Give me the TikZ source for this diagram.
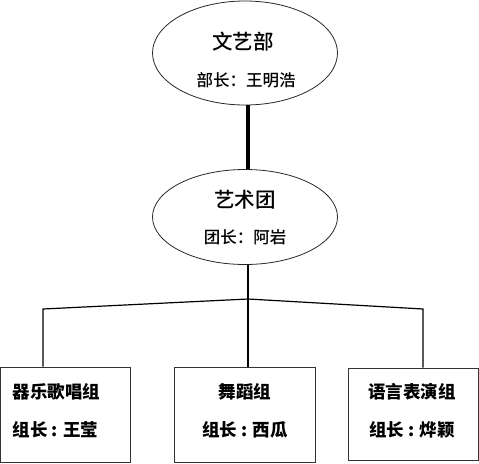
\documentclass[tikz,border=0pt]{standalone}
\usepackage{fontspec}
\setmainfont{Noto Sans CJK SC}
\newfontfamily\cjkmed{Noto Sans CJK SC Medium}
\usetikzlibrary{shapes.geometric, positioning}

\begin{document}
\begin{tikzpicture}[
        x=1pt, y=-1pt,
        unit/.style={
            ellipse, draw=black!85, line width=0.8pt,
            minimum width=185pt, inner sep=0pt
        },
        group/.style={
            rectangle, draw=black!80, line width=0.8pt,
            minimum height=95pt, inner sep=0pt
        },
        uname/.style={font=\cjkmed\fontsize{20.5}{24}\selectfont},
        uhead/.style={font=\cjkmed\fontsize{16.5}{20}\selectfont},
        gtext/.style={font=\bfseries\fontsize{17.5}{21}\selectfont},
        link/.style={draw=black, line width=1.2pt}
    ]

    \useasboundingbox (0,0) rectangle (479,463);

    % Departments
    \node[unit, minimum height=104pt] (wenyi) at (245,53) {};
    \node[unit, minimum height=95pt] (yishu) at (245,217) {};

    \node[uname] (wenyiname) at (243,42) {文艺部};
    \node[uhead] (wenyihead) at (246,80) {部长：王明浩};
    \node[uname] (yishuname) at (245,200) {艺术团};
    \node[uhead] (yishuhead) at (245,237) {团长：阿岩};

    % Groups
    \node[group, minimum width=130pt] (yuechang) at (65,414.5) {};
    \node[group, minimum width=141pt] (wudao) at (244.5,414.5) {};
    \node[group, minimum width=130pt, minimum height=92pt] (yuyan) at (413,414) {};

    \node[gtext, anchor=west] (yuechangname) at (9,392) {器乐歌唱组};
    \node[gtext, anchor=west] (yuechanghead) at (9,430) {组长 : 王莹};
    \node[gtext] (wudaoname) at (245,392) {舞蹈组};
    \node[gtext] (wudaohead) at (245,430) {组长 : 西瓜};
    \node[gtext] (yuyanname) at (412,392) {语言表演组};
    \node[gtext] (yuyanhead) at (412,430) {组长 : 烨颖};

    % Tree
    \coordinate (fork) at (248,299);
    \coordinate (lbend) at (43,309);
    \coordinate (rbend) at (423,309);

    \draw[draw=black, line width=4pt] (wenyi.south -| fork) -- (yishu.north -| fork);
    \draw[link] (yishu.south -| fork) -- (fork);
    \draw[link] (fork) -- (lbend) -- (lbend |- yuechang.north);
    \draw[link] (fork) -- (rbend) -- (rbend |- yuyan.north);
    \draw[link] (fork) -- (fork |- wudao.north);

\end{tikzpicture}
\end{document}
